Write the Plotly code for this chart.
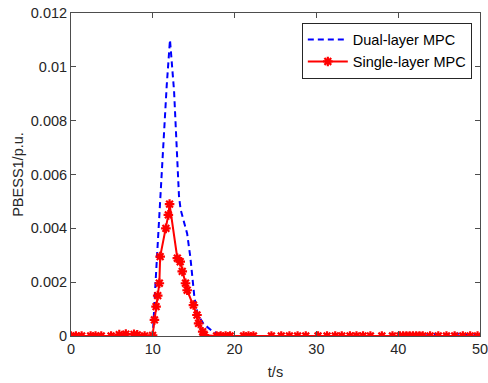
import plotly.graph_objects as go

# Dual-layer MPC (blue dashed)
t_dual = [0, 1, 2, 3, 4, 5, 6, 7, 8, 9, 10.0, 10.3, 10.9, 11.7, 12.1, 12.6, 13.2, 13.4,
          14.2, 14.6, 15.1, 15.5, 16.2, 17.2, 18.3, 19.5, 22, 25, 30, 35, 40, 43, 44.5,
          45.5, 46.5, 47.5, 48.5, 49.5, 50]
p_dual = [0, 0, 0, 0, 0, 0, 0.00003, 0.00005, 0.00004, 0.00001, 0.0, 0.0018, 0.0052, 0.0093,
          0.0110, 0.0091, 0.0052, 0.0047, 0.0038, 0.0029, 0.0014, 0.0008, 0.00045,
          0.0002, 0.00003, 0, 0, 0, 0, 0, 0, 0, 0.00008, 0.00004, 0.00009, 0.00008,
          0.00003, 0.00005, 0]

# Single-layer MPC (red solid with markers)
t_single = [0, 0.6, 1.3, 2.4, 3.0, 3.7, 4.9, 5.9, 6.7, 7.7, 8.1, 9.0, 9.97, 10.2, 10.4,
            10.6, 10.8, 10.9, 11.6, 11.9, 12.05, 13.0, 13.35, 13.6, 14.0, 14.2, 14.97,
            15.4, 15.6, 16.1, 16.3, 17.8, 18.3, 18.9, 19.45, 21.1, 21.7, 22.3, 24.5, 25.7,
            26.7, 27.7, 28.7, 30.2, 31.3, 32.3, 33.1, 34.1, 34.9, 35.7, 36.6, 38.0, 39.3,
            40.2, 40.6, 41.0, 41.4, 41.8, 42.2, 42.6, 43.0, 43.9, 44.9, 45.9, 46.9, 47.9,
            48.8, 49.7]
p_single = [0, 0, 0, 0, 0, 0, 0, 0.00005, 0.00007, 0.00006, 0.00004, 0, 0.00002, 0.0006,
            0.00109, 0.0015, 0.00196, 0.00295, 0.0040, 0.0045, 0.0049, 0.00289, 0.00276,
            0.0024, 0.00196, 0.0017, 0.00115, 0.00078, 0.00047, 0.00016, 0.00003, 0, 0,
            0, 0, 0, 0, 0, 0, 0, 0, 0, 0, 0, 0, 0, 0, 0, 0, 0, 0, 0, 0, 0, 0, 0, 0, 0, 0,
            0, 0, 0, 0, 0, 0, 0, 0, 0]

x_ticks = [0, 10, 20, 30, 40, 50]
y_ticks = [0, 0.002, 0.004, 0.006, 0.008, 0.01, 0.012]
y_ticklabels = ["0", "0.002", "0.004", "0.006", "0.008", "0.01", "0.012"]

fig = go.Figure()
fig.add_trace(go.Scatter(
    x=t_dual, y=p_dual, mode="lines", name="Dual-layer MPC",
    line=dict(color="#0000FF", width=2, dash="6px,4px"),
))
fig.add_trace(go.Scatter(
    x=t_single, y=p_single, mode="lines+markers", name="Single-layer MPC",
    line=dict(color="#FF0000", width=2),
    marker=dict(symbol="asterisk-open", size=8, color="#FF0000",
                line=dict(color="#FF0000", width=2.2)),
))

axis_common = dict(
    showline=True, linecolor="#4d4d4d", linewidth=1, mirror="ticks",
    ticks="inside", ticklen=5, tickcolor="#4d4d4d", showgrid=False,
    zeroline=False, automargin=False, ticklabeloverflow="allow",
    tickfont=dict(family="Liberation Sans, Arial", size=14.5, color="#262626"),
)

fig.update_layout(
    width=488, height=383,
    margin=dict(l=71, r=8, t=13, b=47),
    paper_bgcolor="white", plot_bgcolor="white",
    font=dict(family="Liberation Sans, Arial", size=14, color="#262626"),
    xaxis=dict(range=[0, 50], tickvals=x_ticks, ticktext=[str(v) for v in x_ticks],
               title=dict(text="t/s", font=dict(size=14.5), standoff=10), **axis_common),
    yaxis=dict(range=[0, 0.012], tickvals=y_ticks, ticktext=y_ticklabels,
               title=dict(text="PBESS1/p.u.", font=dict(size=14.5), standoff=3), **axis_common),
    legend=dict(x=0.98, y=0.97, xanchor="right", yanchor="top",
                bgcolor="white", bordercolor="#262626", borderwidth=1,
                font=dict(family="Liberation Sans, Arial", size=14.5, color="#000000"),
                tracegroupgap=0, itemwidth=40),
    showlegend=True,
)

# Remove the browser's default 8px body margin so the figure fills the window.
fig.write_html("out.html", config={"displayModeBar": False},
               post_script="document.body.style.margin='0';")
